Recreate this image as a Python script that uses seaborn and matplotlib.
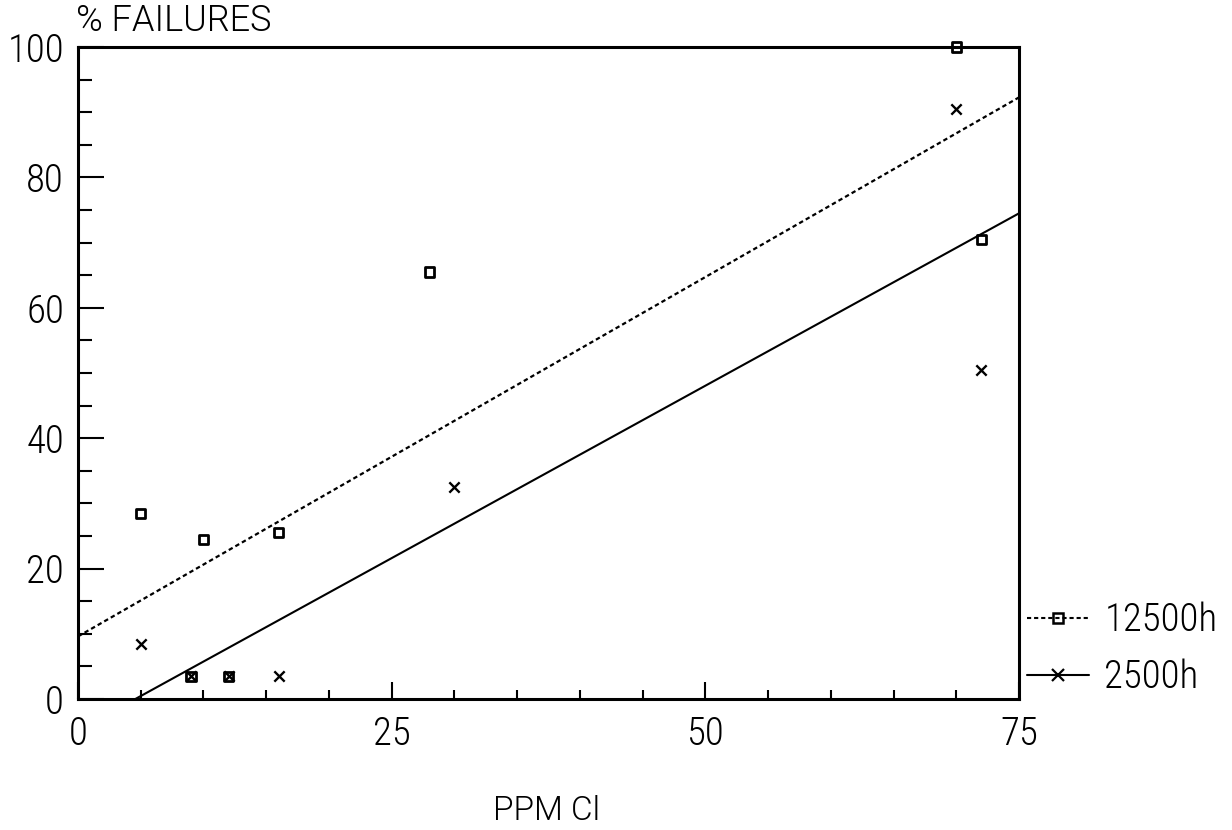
import numpy as np
import pandas as pd
import seaborn as sns
import matplotlib
matplotlib.use("Agg")
import matplotlib.pyplot as plt
from matplotlib.lines import Line2D
from matplotlib.ticker import MultipleLocator

# ---- data ----
x_12500 = [5, 9, 10, 12, 16, 28, 70, 72]
y_12500 = [28.5, 3.5, 24.5, 3.5, 25.5, 65.5, 100, 70.5]
x_2500 = [5, 9, 12, 16, 30, 70, 72]
y_2500 = [8.5, 3.5, 3.5, 3.5, 32.5, 90.5, 50.5]
series_names = ["12500h", "2500h"]
x_ticks = [0, 25, 50, 75]
y_ticks = [0, 20, 40, 60, 80, 100]

sns.set_theme(style="white")
plt.rcParams['font.family'] = ['Roboto Condensed', 'DejaVu Sans']
plt.rcParams['font.weight'] = 300
plt.rcParams['text.color'] = 'black'

df1 = pd.DataFrame({"ppm": x_12500, "fail": y_12500})
df2 = pd.DataFrame({"ppm": x_2500, "fail": y_2500})

fig = plt.figure(figsize=(12.32, 8.30), dpi=100)
ax = fig.add_axes([78/1232, 131/830, (1019-78)/1232, (699-47)/830])
ax.set_xlim(0, 75)
ax.set_ylim(0, 100)

dash = (0, (2.0, 1.4))
sns.regplot(data=df1, x="ppm", y="fail", ax=ax, ci=None, truncate=False,
            scatter=False, color="black", line_kws=dict(ls=dash, lw=1.6))
sns.regplot(data=df2, x="ppm", y="fail", ax=ax, ci=None, truncate=False,
            scatter=False, color="black", line_kws=dict(ls="-", lw=1.5))
ax.set_xlim(0, 75)
ax.set_ylim(0, 100)

sns.scatterplot(data=df1, x="ppm", y="fail", ax=ax, marker="s", s=45,
                facecolor="none", edgecolor="black", linewidth=2.0, zorder=5, clip_on=False)
sns.scatterplot(data=df2, x="ppm", y="fail", ax=ax, marker="x", s=55,
                color="black", linewidth=1.7, zorder=5, clip_on=False)

for sp in ax.spines.values():
    sp.set_visible(True)
    sp.set_color("black")
    sp.set_linewidth(2.2)

ax.set_xticks(x_ticks)
ax.set_yticks(y_ticks)
ax.xaxis.set_minor_locator(MultipleLocator(5))
ax.yaxis.set_minor_locator(MultipleLocator(5))
ax.tick_params(axis="both", which="both", direction="in", color="black", width=1.5,
               labelsize=28, labelcolor="black")
ax.tick_params(axis="x", which="major", length=12, pad=12, bottom=True)
ax.tick_params(axis="x", which="minor", length=6.5, bottom=True)
ax.tick_params(axis="y", which="major", length=19, pad=10, left=True)
ax.tick_params(axis="y", which="minor", length=10, left=True)

ax.set_xlabel("")
ax.set_ylabel("")
fig.text(76/1232, 1 - 21/830, "% FAILURES", fontsize=26, va="center", ha="left",
         family=["Roboto", "DejaVu Sans"], fontweight=300)
fig.text(547/1232, 1 - 811/830, "PPM Cl", fontsize=24, va="center", ha="center",
         family=["Roboto", "DejaVu Sans"], fontweight=300)

handles = [
    Line2D([], [], color="black", ls=dash, lw=1.5, marker="s", ms=7,
           mfc="none", mec="black", mew=1.8),
    Line2D([], [], color="black", ls="-", lw=1.5, marker="x", ms=8, mew=1.6),
]
leg = fig.legend(handles, series_names, loc="center left",
                 bbox_to_anchor=(1027/1232, 1 - 649/830), frameon=False,
                 fontsize=28, handlelength=1.6, handletextpad=0.39, labelspacing=0.5,
                 borderpad=0, borderaxespad=0)
for t in leg.get_texts():
    t.set_color("black")

fig.savefig("out.png", dpi=100)
